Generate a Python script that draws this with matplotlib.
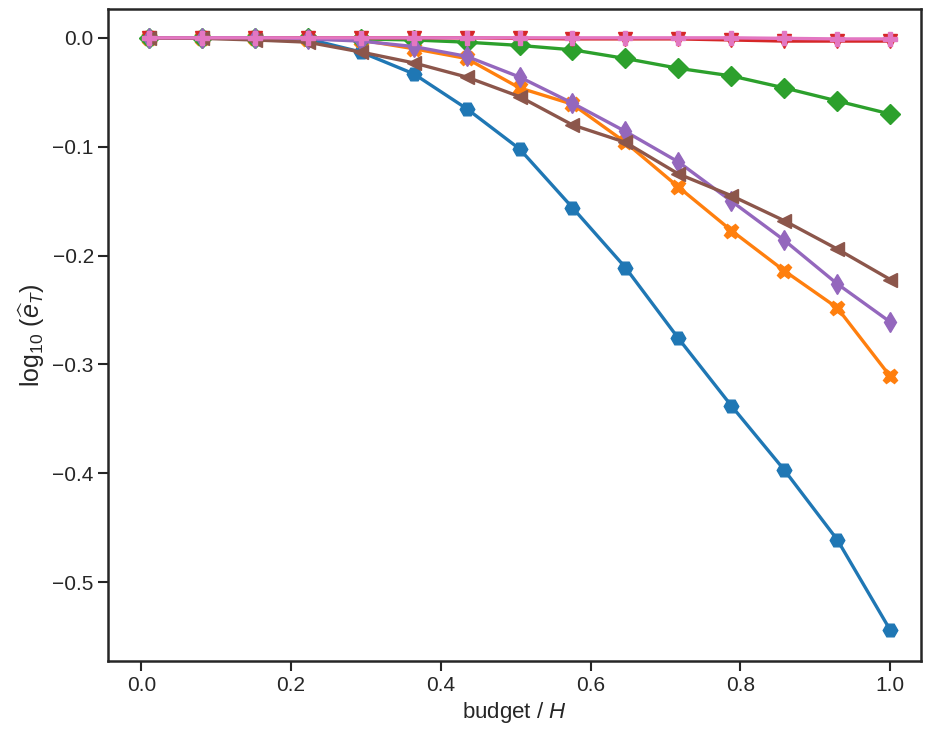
import numpy as np
import matplotlib
matplotlib.use("Agg")
import matplotlib.pyplot as plt
import seaborn as sns

sns.set_style("ticks")
plt.rcParams['font.family'] = ['Liberation Sans', 'DejaVu Sans']
plt.rcParams['mathtext.fontset'] = 'custom'
plt.rcParams['mathtext.rm'] = 'Liberation Sans'
plt.rcParams['mathtext.it'] = 'Liberation Sans:italic'
plt.rcParams['mathtext.bf'] = 'Liberation Sans:bold'

budget = [0.01, 0.0807, 0.1514, 0.2221, 0.2929, 0.3636, 0.4343, 0.505,
          0.5757, 0.6464, 0.7171, 0.7879, 0.8586, 0.9293, 1.0]

blue = [0.0, 0.0, 0.0, -0.001, -0.013, -0.033, -0.065, -0.102, -0.156,
        -0.211, -0.276, -0.338, -0.397, -0.461, -0.544]
orange = [0.0, 0.0, 0.0, -0.001, -0.002, -0.010, -0.019, -0.046, -0.061,
          -0.096, -0.137, -0.177, -0.214, -0.248, -0.311]
green = [0.0, 0.0, 0.0, 0.0, -0.001, -0.002, -0.004, -0.007, -0.011,
         -0.019, -0.028, -0.035, -0.046, -0.058, -0.070]
red = [0.0, 0.0, 0.0, 0.0, 0.0, 0.0, 0.0, -0.0005, -0.001, -0.001,
       -0.001, -0.002, -0.003, -0.003, -0.003]
purple = [0.0, 0.0, 0.0, -0.001, -0.003, -0.008, -0.017, -0.036, -0.060,
          -0.086, -0.114, -0.150, -0.186, -0.226, -0.261]
brown = [0.0, -0.0005, -0.002, -0.004, -0.013, -0.023, -0.036, -0.054,
         -0.080, -0.096, -0.125, -0.145, -0.168, -0.194, -0.222]
pink = [0.0, 0.0, 0.0, 0.0, 0.0, 0.0, 0.0, 0.0, 0.0, 0.0, 0.0, 0.0,
        -0.0005, -0.001, -0.001]

series = [
    (blue, 'H', '#1f77b4'),
    (orange, 'X', '#ff7f0e'),
    (green, 'D', '#2ca02c'),
    (red, 'v', '#d62728'),
    (purple, 'd', '#9467bd'),
    (brown, '<', '#8c564b'),
    (pink, 'P', '#e377c2'),
]

fig = plt.figure(figsize=(9.34, 7.47), dpi=100)
ax = fig.add_axes([0.116, 0.115, 0.870, 0.873])
for vals, mk, col in series:
    ax.plot(budget, vals, marker=mk, color=col, lw=2.4, ms=10.5)

ax.set_xlim(-0.044, 1.041)
ax.set_ylim(-0.5725, 0.0265)
ax.set_xticks([0.0, 0.2, 0.4, 0.6, 0.8, 1.0])
ax.set_yticks([0.0, -0.1, -0.2, -0.3, -0.4, -0.5])
ax.tick_params(labelsize=15, length=7, width=1.5)
for s in ax.spines.values():
    s.set_linewidth(1.8)
    s.set_color('#262626')
ax.set_xlabel('budget / $H$', fontsize=16)
ax.set_ylabel(r'$\log_{10}\,(\widehat{e}_T)$', fontsize=18, labelpad=4)
fig.savefig('out.png', dpi=100)
